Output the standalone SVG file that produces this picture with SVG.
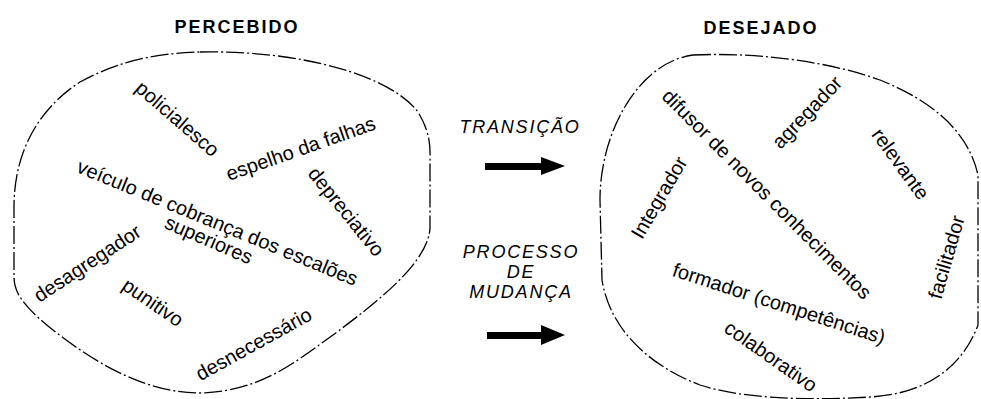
<svg xmlns="http://www.w3.org/2000/svg" width="981" height="399" viewBox="0 0 981 399">
  <style>
    .blob { fill: none; stroke: #000; stroke-width: 1.3; stroke-dasharray: 18 3 2 3; }
    .head { font-family: "Liberation Sans", Arial, sans-serif; font-weight: bold; font-size: 18px; letter-spacing: 2px; fill: #000; text-anchor: middle; }
    .word { font-family: "Liberation Sans", Arial, sans-serif; font-size: 20px; fill: #000; text-anchor: middle; }
    .mid { font-family: "Liberation Sans", Arial, sans-serif; font-style: italic; font-size: 18px; letter-spacing: 1.8px; fill: #000; text-anchor: middle; }
    .arrow { fill: #000; }
  </style>
  <rect width="981" height="399" fill="#fff"/>

  <!-- perceived side -->
  <g id="percebido">
    <path class="blob" d="M200,52 C300,50 390,75 418,112 C432,135 430,150 430,165 L430,228 C428,262 380,300 333,335 C295,362 262,391 200,393 C150,393 100,368 48,326 C20,303 14,290 14,277 L14,207 C14,150 40,108 80,82 C120,60 160,53 200,52 Z"/>
    <text class="head" x="237" y="33">PERCEBIDO</text>
    <text class="word" transform="translate(173,124) rotate(41)">policialesco</text>
    <text class="word" transform="translate(303,155) rotate(-19.4)">espelho da falhas</text>
    <text class="word" transform="translate(341,216) rotate(51)">depreciativo</text>
    <text class="word" transform="translate(215,229) rotate(22.3)">veículo de cobrança dos escalões</text>
    <text class="word" transform="translate(206,246) rotate(23.4)">superiores</text>
    <text class="word" transform="translate(91,269) rotate(-33.3)">desagregador</text>
    <text class="word" transform="translate(149,308) rotate(34.6)">punitivo</text>
    <text class="word" transform="translate(257,350) rotate(-29)">desnecessário</text>
  </g>

  <!-- desired side -->
  <g id="desejado">
    <path class="blob" d="M693,55 C760,52 830,62 880,80 C930,100 968,130 978,175 L978,325 C962,368 925,394 870,397 C800,401 740,398 700,385 C650,366 610,330 602,280 L600,200 C600,130 640,62 693,55 Z"/>
    <text class="head" x="761" y="34">DESEJADO</text>
    <text class="word" transform="translate(762,199) rotate(45.1)">difusor de novos conhecimentos</text>
    <text class="word" transform="translate(812,117) rotate(-46.5)">agregador</text>
    <text class="word" transform="translate(895,168) rotate(54)">relevante</text>
    <text class="word" transform="translate(665,201) rotate(-59.7)">Integrador</text>
    <text class="word" transform="translate(953,259) rotate(-74)">facilitador</text>
    <text class="word" transform="translate(777,310) rotate(18)">formador (competências)</text>
    <text class="word" transform="translate(767,362) rotate(35)">colaborativo</text>
  </g>

  <!-- transition labels -->
  <g id="transicao">
    <text class="mid" x="520" y="133">TRANSIÇÃO</text>
  </g>
  <g id="processo">
    <text class="mid" x="521" y="258">PROCESSO</text>
    <text class="mid" x="521" y="278">DE</text>
    <text class="mid" x="521" y="298">MUDANÇA</text>
  </g>

  <!-- arrows between the two states -->
  <g id="connectors">
    <path class="arrow" d="M485,163 L541,163 L541,157 L565,166 L541,175 L541,170 L485,170 Z"/>
    <path class="arrow" d="M487,332 L541,332 L541,325 L565,335 L541,345 L541,339 L487,339 Z"/>
  </g>
</svg>
